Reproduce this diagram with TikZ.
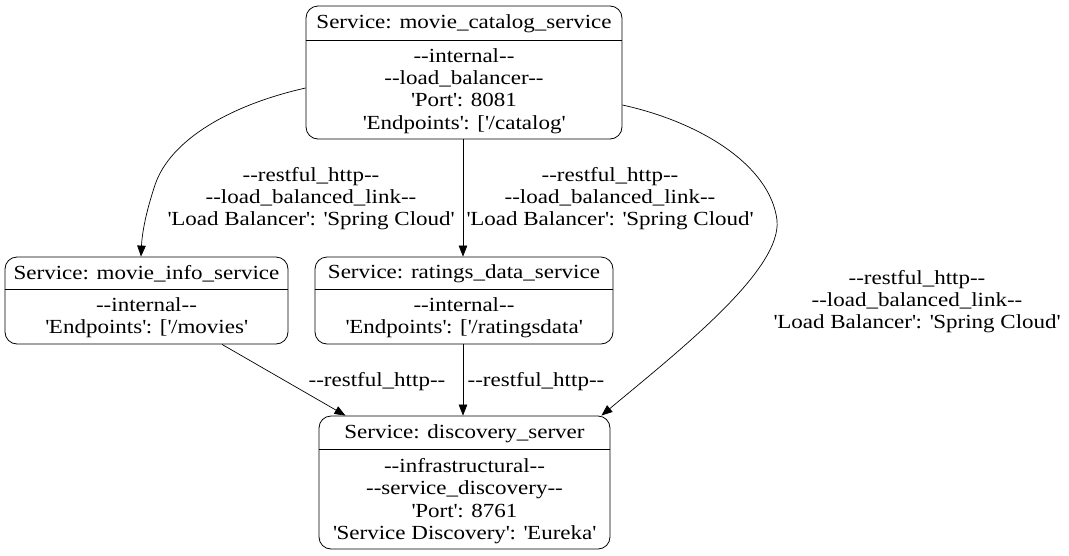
\documentclass[tikz,border=0pt]{standalone}
\usepackage{fontspec}
\setmainfont[FakeStretch=1.15]{Liberation Serif}
\usetikzlibrary{arrows.meta}
\newcommand\sq{\textquotesingle}
\begin{document}
\begin{tikzpicture}[x=1pt,y=-1pt,
  box/.style={draw,rounded corners=12pt,inner sep=0pt,line width=0.8pt},
  txt/.style={inner sep=0pt,align=center,font=\fontsize{20}{22.3}\selectfont},
  edge/.style={draw,line width=0.7pt,-{Triangle[length=11pt,width=8.5pt]}},
  hline/.style={line width=0.8pt}]
\useasboundingbox (0,0) rectangle (1069,555);
% boxes
\node[box,minimum width=316pt,minimum height=133pt] (cat) at (464,72.5) {};
\node[box,minimum width=283pt,minimum height=87pt] (info) at (146.5,300.5) {};
\node[box,minimum width=298pt,minimum height=87pt] (rat) at (464,300.5) {};
\node[box,minimum width=291pt,minimum height=133pt] (disc) at (464.5,482.5) {};
% header separators
\draw[hline] (cat.west |- 0,40) -- (cat.east |- 0,40);
\draw[hline] (info.west |- 0,289) -- (info.east |- 0,289);
\draw[hline] (rat.west |- 0,289) -- (rat.east |- 0,289);
\draw[hline] (disc.west |- 0,449) -- (disc.east |- 0,449);
% texts
\node[txt] (catH) at (464,24) {Service: movie\_catalog\_service};
\node[txt] (catB) at (464,91) {-{}-internal-{}-\\-{}-load\_balancer-{}-\\\sq Port\sq: 8081\\\sq Endpoints\sq: [\sq/catalog\sq};
\node[txt] (infoH) at (146.5,274) {Service: movie\_info\_service};
\node[txt] (infoB) at (146.5,318) {-{}-internal-{}-\\\sq Endpoints\sq: [\sq/movies\sq};
\node[txt] (ratH) at (464,274) {Service: ratings\_data\_service};
\node[txt] (ratB) at (464,318) {-{}-internal-{}-\\\sq Endpoints\sq: [\sq/ratingsdata\sq};
\node[txt] (discH) at (464.5,434) {Service: discovery\_server};
\node[txt] (discB) at (464.5,501) {-{}-infrastructural-{}-\\-{}-service\_discovery-{}-\\\sq Port\sq: 8761\\\sq Service Discovery\sq: \sq Eureka\sq};
% edge labels
\node[txt] (l1) at (311,198.5) {-{}-restful\_http-{}-\\-{}-load\_balanced\_link-{}-\\\sq Load Balancer\sq: \sq Spring Cloud\sq};
\node[txt] (l2) at (610,198.5) {-{}-restful\_http-{}-\\-{}-load\_balanced\_link-{}-\\\sq Load Balancer\sq: \sq Spring Cloud\sq};
\node[txt] (l3) at (917,301.5) {-{}-restful\_http-{}-\\-{}-load\_balanced\_link-{}-\\\sq Load Balancer\sq: \sq Spring Cloud\sq};
\node[txt] (l4) at (377,382) {-{}-restful\_http-{}-};
\node[txt] (l5) at (536,382) {-{}-restful\_http-{}-};
% edges
\draw[edge] ([yshift=-15.5pt]cat.west) .. controls (230,105) and (170,140) .. (155,185) .. controls (145,215) and (142,235) .. ([xshift=-5.5pt]info.north);
\draw[edge] ([xshift=-1pt]cat.south) -- ([xshift=-1pt]rat.north);
\draw[edge] ([yshift=-32.5pt]cat.east) .. controls (700,122) and (770,165) .. (777,220) .. controls (782,270) and (680,350) .. ([xshift=-9pt]disc.north east);
\draw[edge] ([xshift=75.5pt]info.south) -- ([xshift=-119pt]disc.north);
\draw[edge] ([xshift=-1pt]rat.south) -- ([xshift=-1.5pt]disc.north);
\end{tikzpicture}
\end{document}
